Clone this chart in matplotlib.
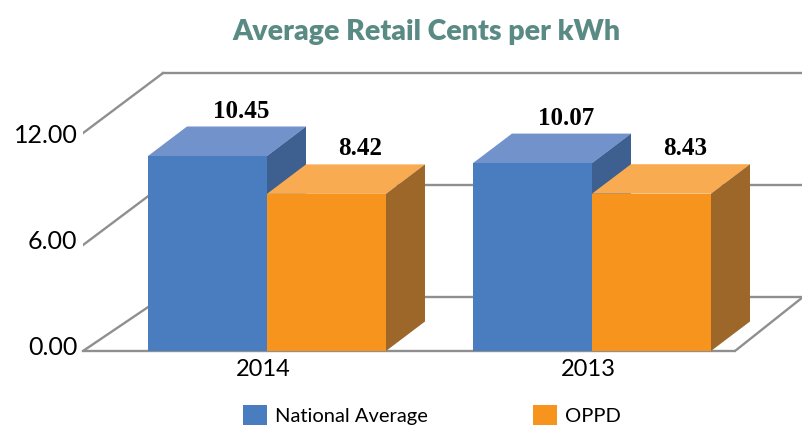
import matplotlib
matplotlib.use('Agg')
import matplotlib.pyplot as plt
from matplotlib.patches import Polygon, Patch
import numpy as np

years = ['2014', '2013']
national = [10.45, 10.07]
oppd = [8.42, 8.43]
ticks = [0, 6, 12]
tick_labels = ['0.00', '6.00', '12.00']

W, H = 803, 428
sans = ['Lato', 'DejaVu Sans']
fig = plt.figure(figsize=(W / 100, H / 100), dpi=100)
# axes run from the front left corner of the floor to the right edge
ax = fig.add_axes([83 / W, (H - 351) / H, (W - 83) / W, 351 / H])
px_x = 325.0   # pixels per category
px_y = 18.66   # pixels per value unit
ax.set_xlim((83 - 267) / px_x, (W - 267) / px_x)
ax.set_ylim(0, 351 / px_y)
for s in ax.spines.values():
    s.set_visible(False)

bar_w = 119 / px_x
dx = 39 / px_x
dy = 29.5 / px_y
wall_dx = 80 / px_x
wall_dy = 60 / px_y
back_y = 54 / px_y
x0 = ax.get_xlim()[0]
x1 = ax.get_xlim()[1]

grey = '#8f8f8f'
lw = 1.7
# floor and walls
floor_right = 735
ax.plot([x0, (floor_right - 267) / px_x], [0, 0], color=grey, lw=lw, clip_on=False, zorder=1)
ax.plot([(floor_right - 267) / px_x, x1], [0, back_y], color=grey, lw=lw, zorder=1)
ax.plot([x0, x0 + wall_dx], [0, back_y], color=grey, lw=lw, zorder=1)
ax.plot([x0 + wall_dx, x1], [back_y, back_y], color=grey, lw=lw, zorder=1)
for t in ticks[1:]:
    ax.plot([x0, x0 + wall_dx], [t + back_y - wall_dy, t + back_y], color=grey, lw=lw, zorder=1)
    ax.plot([x0 + wall_dx, x1], [t + back_y, t + back_y], color=grey, lw=lw, zorder=1)


def box(left, value, front, top, side, z):
    right = left + bar_w
    ax.add_patch(Polygon([(left, 0), (right, 0), (right, value), (left, value)], fc=front, ec='none', zorder=z + 1))
    ax.add_patch(Polygon([(left, value), (right, value), (right + dx, value + dy), (left + dx, value + dy)], fc=top, ec='none', zorder=z))
    ax.add_patch(Polygon([(right, 0), (right + dx, dy), (right + dx, value + dy), (right, value)], fc=side, ec='none', zorder=z))


pos = np.arange(len(years))
for i in pos:
    box(i - bar_w, national[i], '#4a7dbf', '#7192cb', '#3d6090', 2 + i * 4)
    box(i, oppd[i], '#f7941e', '#f9ab52', '#9d672a', 4 + i * 4)
    for left, val in [(i - bar_w, national[i]), (i, oppd[i])]:
        ax.annotate(f'{val:.2f}', (left + bar_w / 2, val), xytext=(34 * 0.72, 45 * 0.72),
                    textcoords='offset points', ha='center', va='center', fontsize=18,
                    fontweight='bold', family='Liberation Serif', color='black', zorder=20)

ax.set_xticks(pos - 0.01, years, fontsize=17, family=sans)
ax.set_yticks(np.array(ticks) * 0.951 + 0.27, tick_labels, fontsize=18, family=sans)
ax.tick_params(length=0)
ax.tick_params(axis='x', pad=6)
ax.tick_params(axis='y', pad=4)
ax.patch.set_alpha(0)

fig.text(426 / W, 1 - 32 / H, 'Average Retail Cents per kWh', ha='center', va='center',
         fontsize=20.5, fontweight='heavy', color='#5a8a84', family=sans)

handles = [Patch(fc='#4a7dbf', label='National Average'), Patch(fc='#f7941e', label='OPPD')]
fig.legend(handles=handles, ncol=2, frameon=False, loc='lower left',
           bbox_to_anchor=(227 / W, -13 / H), prop={'family': sans, 'size': 14.5},
           handlelength=1.19, handleheight=1.1, handletextpad=0.4, columnspacing=5.2,
           borderpad=0.3)

fig.savefig('out.png', dpi=100)
plt.close(fig)
